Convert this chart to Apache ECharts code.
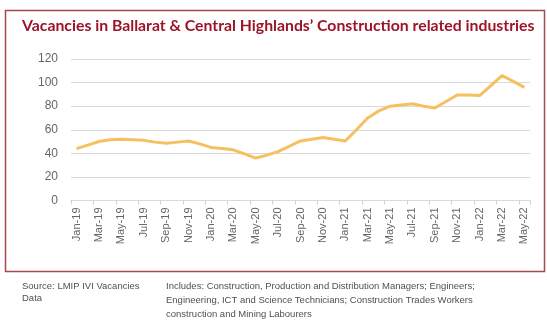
<!DOCTYPE html>
<html>
<head>
<meta charset="utf-8">
<script src="https://cdn.jsdelivr.net/npm/echarts@6/dist/echarts.min.js"></script>
<style>
  html, body { margin: 0; padding: 0; background: #ffffff; }
  #chart { width: 547px; height: 324px; }
</style>
</head>
<body>
<div id="chart"></div>
<script>
// Monthly vacancy counts, Jan-19 to May-22
const months = [
  'Jan-19','Feb-19','Mar-19','Apr-19','May-19','Jun-19','Jul-19','Aug-19','Sep-19','Oct-19','Nov-19','Dec-19',
  'Jan-20','Feb-20','Mar-20','Apr-20','May-20','Jun-20','Jul-20','Aug-20','Sep-20','Oct-20','Nov-20','Dec-20',
  'Jan-21','Feb-21','Mar-21','Apr-21','May-21','Jun-21','Jul-21','Aug-21','Sep-21','Oct-21','Nov-21','Dec-21',
  'Jan-22','Feb-22','Mar-22','Apr-22','May-22'
];
const vacancies = [
  44, 47, 50, 51.5, 52, 51.5, 51, 49.5, 48.5, 49.5, 50.5, 48,
  45, 44, 43, 39.5, 36, 38.5, 41.5, 46, 50.5, 52, 53.5, 52,
  50.5, 60, 70, 76, 80, 81, 82, 80, 78.5, 84, 89.5, 89.5,
  89, 97.5, 106, 101, 96
];
const yTicks = { min: 0, max: 120, interval: 20 };

const titleText = 'Vacancies in Ballarat & Central Highlands\u2019 Construction related industries';
const sourceLines = ['Source: LMIP IVI Vacancies', 'Data'];
const noteLines = [
  'Includes: Construction, Production and Distribution Managers; Engineers;',
  'Engineering, ICT and Science Technicians; Construction Trades Workers',
  'construction and Mining Labourers'
];

const chart = echarts.init(document.getElementById('chart'), null, { renderer: 'canvas' });

const footerText = (lines, x, y0, step, size) => lines.map((t, i) => ({
  type: 'text',
  left: x,
  top: y0 + i * step,
  style: { text: t, fill: '#505050', font: size + 'px "Liberation Sans", Arial, sans-serif' }
}));

chart.setOption({
  animation: false,
  backgroundColor: '#ffffff',
  title: {
    text: titleText,
    left: 17,
    top: 13,
    textStyle: { color: '#9c1428', fontFamily: 'Lato', fontWeight: 'bold', fontSize: 15.8 }
  },
  grid: { left: 71, right: 17, top: 59, bottom: 123.5 },
  xAxis: {
    type: 'category',
    data: months,
    boundaryGap: true,
    axisLine: { lineStyle: { color: '#d9d9d9', width: 1 } },
    axisTick: { show: true, interval: 1, length: 4, lineStyle: { color: '#d0d0d0' } },
    axisLabel: {
      interval: 1,
      rotate: 90,
      margin: 7,
      color: '#666666',
      fontFamily: 'Liberation Sans',
      fontSize: 11
    },
    splitLine: { show: false }
  },
  yAxis: {
    type: 'value',
    min: yTicks.min,
    max: yTicks.max,
    interval: yTicks.interval,
    axisLine: { show: false },
    axisTick: { show: false },
    axisLabel: { margin: 13, color: '#666666', fontFamily: 'Liberation Sans', fontSize: 12 },
    splitLine: { lineStyle: { color: '#d9d9d9', width: 1 } }
  },
  series: [{
    type: 'line',
    data: vacancies,
    showSymbol: false,
    smooth: false,
    lineStyle: { color: '#f6c060', width: 3 }
  }],
  graphic: [
    {
      type: 'rect',
      shape: { x: 5.5, y: 10.5, width: 539, height: 261 },
      style: { fill: 'none', stroke: '#a9474b', lineWidth: 1.5 }
    },
    ...footerText(sourceLines, 22, 281, 12, 9.5),
    ...footerText(noteLines, 166, 281, 14, 9.5)
  ]
});
</script>
</body>
</html>
